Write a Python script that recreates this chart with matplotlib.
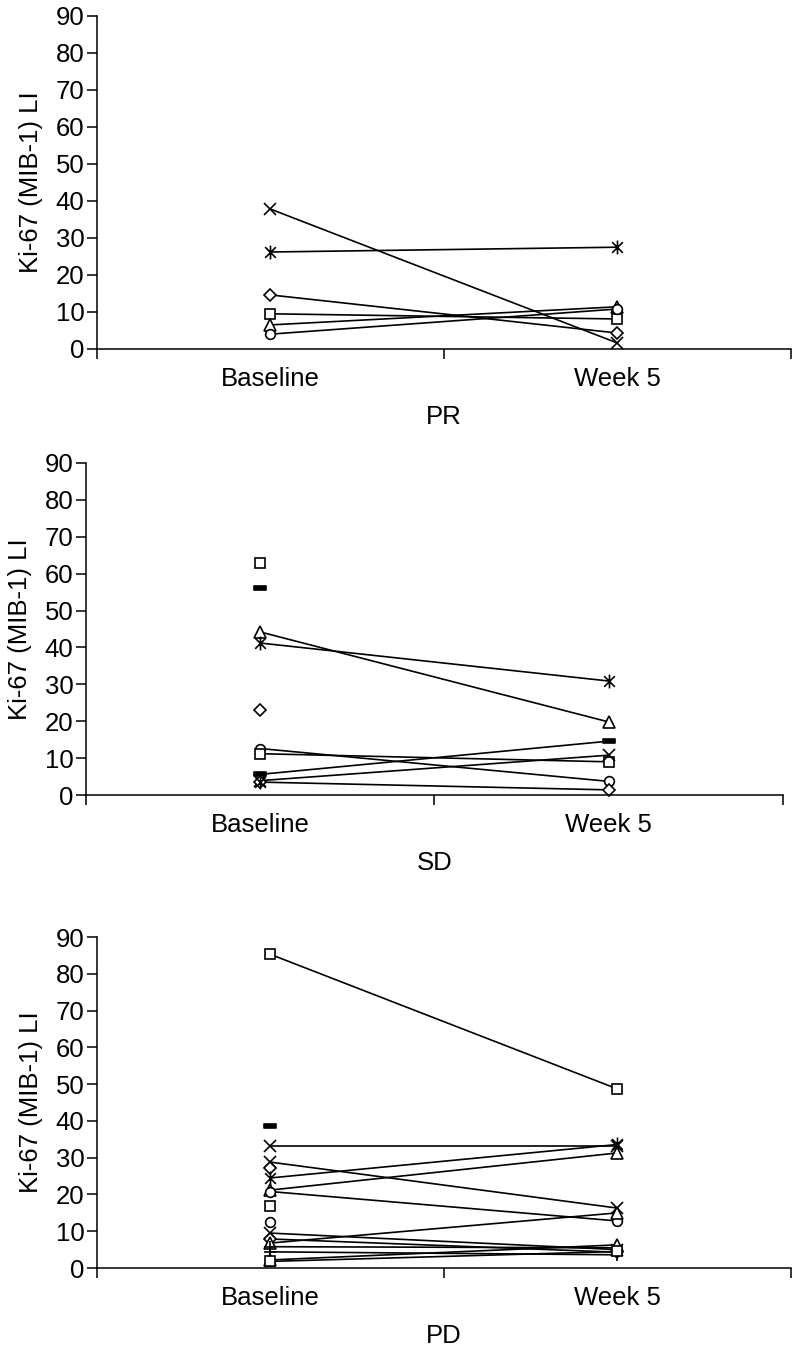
import numpy as np
import matplotlib
matplotlib.use('Agg')
import matplotlib.pyplot as plt
from matplotlib.path import Path

plt.rcParams['font.family'] = ['Liberation Sans', 'DejaVu Sans']

timepoints = ['Baseline', 'Week 5']
panel_names = ['PR', 'SD', 'PD']
ylabel = 'Ki-67 (MIB-1) LI'
nan = np.nan

# one entry per patient: baseline value, week 5 value, symbol
pr_baseline = [37.8, 26.2, 14.6, 9.5, 6.5, 4.0]
pr_week5 = [1.6, 27.5, 4.3, 8.1, 11.4, 10.8]
pr_symbols = ['x', 'ast', 'D', 's', '^', 'o']

sd_baseline = [63.0, 56.0, 44.2, 41.2, 23.0, 12.6, 11.2, 5.6, 3.9, 3.5, 3.4]
sd_week5 = [nan, nan, 19.8, 30.9, nan, 3.7, 9.0, 14.6, 10.8, 1.4, nan]
sd_symbols = ['s', 'dash', '^', 'ast', 'D', 'o', 's', 'dash', 'x', 'D', 'ast']

pd_baseline = [85.3, 38.6, 33.2, 28.8, 27.2, 24.5, 21.2, 20.8, 16.9, 12.5,
               9.5, 7.9, 6.8, 5.8, 4.4, 2.2, 1.8]
pd_week5 = [48.7, nan, 33.2, 16.3, nan, 33.6, 31.3, 12.8, nan, nan,
            5.0, 4.3, 15.0, 5.5, 3.6, 6.3, 4.5]
pd_symbols = ['s', 'dash', 'x', 'x', 'D', 'ast', '^', 'o', 's', 'o',
              'x', 'D', '^', '+', '+', '^', 's']

# Excel-like marker shapes
M, L, C = Path.MOVETO, Path.LINETO, Path.CLOSEPOLY
ast_path = Path([(-1, -1), (1, 1), (-1, 1), (1, -1), (0, -1.3), (0, 1.3)],
                [M, L, M, L, M, L])
dash_path = Path([(-1, -0.35), (1, -0.35), (1, 0.35), (-1, 0.35), (-1, -0.35)],
                 [M, L, L, L, C])
marker_style = {
    's': dict(marker='s', ms=7, mfc='white'),
    'D': dict(marker='D', ms=6.5, mfc='white'),
    '^': dict(marker='^', ms=8, mfc='white'),
    'o': dict(marker='o', ms=7, mfc='white'),
    'x': dict(marker='x', ms=9, mfc='white'),
    '+': dict(marker='+', ms=9, mfc='white'),
    'ast': dict(marker=ast_path, ms=10, mfc='white'),
    'dash': dict(marker=dash_path, ms=9, mfc='black'),
}

panels = [
    (pr_baseline, pr_week5, pr_symbols),
    (sd_baseline, sd_week5, sd_symbols),
    (pd_baseline, pd_week5, pd_symbols),
]
# axes boxes in figure fractions (left, bottom, width, height)
boxes = [
    [0.1223, 0.7421, 0.875, 0.2461],
    [0.1084, 0.4124, 0.879, 0.2454],
    [0.1223, 0.0628, 0.875, 0.2446],
]

fs = 18.5
fig = plt.figure(figsize=(7.93, 13.53), dpi=100)

for (base, wk5, syms), box, name in zip(panels, boxes, panel_names):
    ax = fig.add_axes(box)
    for b, w, s in zip(base, wk5, syms):
        ax.plot([0.5, 1.5], [b, w], color='black', lw=1.2, mec='black',
                mew=1.2, clip_on=False, **marker_style[s])

    ax.set_xlim(0, 2)
    ax.set_ylim(0, 90)
    ax.set_yticks(np.arange(0, 91, 10))
    ax.tick_params(axis='y', direction='out', length=7, width=1.1,
                   labelsize=fs, pad=2)
    ax.set_xticks([0, 1, 2])
    ax.set_xticklabels([])
    ax.set_xticks([0.5, 1.5], minor=True)
    ax.set_xticklabels(timepoints, minor=True)
    ax.tick_params(axis='x', which='major', direction='out', length=7, width=1.1)
    ax.tick_params(axis='x', which='minor', length=0, labelsize=fs, pad=13)
    for side in ['top', 'right']:
        ax.spines[side].set_visible(False)
    for side in ['left', 'bottom']:
        ax.spines[side].set_linewidth(1.1)
    ax.set_ylabel(ylabel, fontsize=fs, labelpad=9)
    ax.set_xlabel(name, fontsize=fs, labelpad=10)

fig.savefig('out.png', dpi=100)
